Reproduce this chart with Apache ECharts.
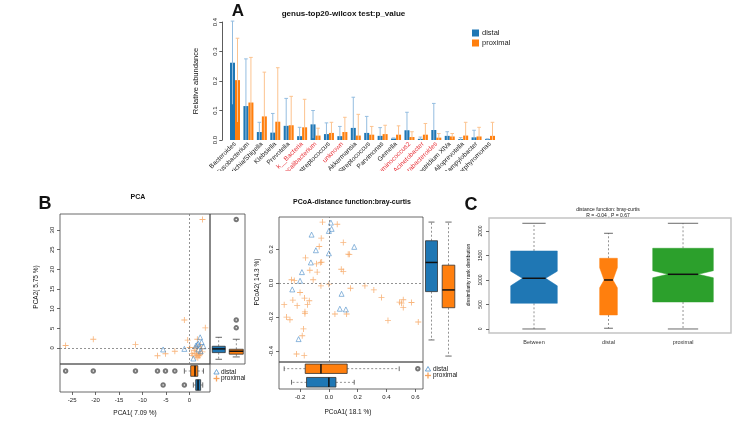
<!DOCTYPE html>
<html><head><meta charset="utf-8">
<script src="https://cdn.jsdelivr.net/npm/echarts@6/dist/echarts.min.js"></script>
<style>html,body{margin:0;padding:0;background:#fff}#c{width:753px;height:426px}</style>
</head><body><div id="c"></div>
<script>
// ---------- Panel A data ----------
const genera = ['Bacteroides','Fusobacterium','Escherichia/Shigella','Klebsiella','Prevotella','k__Bacteria','Faecalibacterium','Peptostreptococcus','unknown','Akkermansia','Streptococcus','Parvimonas','Gemella','Ruminococcus2','Acinetobacter','Parabacteroides','Clostridium XlVa','Alloprevotella','Campylobacter','Porphyromonas'];
const redGenera = ['k__Bacteria','Faecalibacterium','unknown','Ruminococcus2','Acinetobacter','Parabacteroides'];
const distalMean = [0.262,0.115,0.027,0.025,0.048,0.013,0.053,0.020,0.013,0.041,0.024,0.014,0.005,0.033,0.004,0.034,0.014,0.003,0.009,0.003];
const distalSd   = [0.141,0.160,0.033,0.065,0.093,0.030,0.047,0.038,0.033,0.104,0.056,0.028,0.002,0.061,0.006,0.090,0.014,0.005,0.024,0.001];
const proximalMean = [0.203,0.127,0.080,0.062,0.050,0.043,0.015,0.024,0.027,0.015,0.018,0.020,0.018,0.010,0.018,0.008,0.012,0.015,0.012,0.014];
const proximalSd   = [0.142,0.153,0.150,0.183,0.098,0.095,0.025,0.036,0.050,0.072,0.028,0.030,0.030,0.018,0.038,0.014,0.010,0.045,0.031,0.046];
const aTicks = [0,0.1,0.2,0.3,0.4];

// ---------- Panel B: PCA ----------
const pcaDistal = [[2.3,2.7],[1.4,0.6],[1.9,1.1],[3.0,0.4],[2.6,1.5],[0.85,-2.7],[1.9,-0.4],[2.4,-0.85],[-5.6,-0.4],[-1.07,-0.25],[1.7,0.9]];
const pcaProximal = [[2.8,32.7],[-1.07,7.1],[3.4,5.1],[1.7,2.2],[-0.36,2.0],[-20.5,2.2],[-26.4,0.6],[-11.5,0.85],[-6.8,-2.0],[-5.1,-1.5],[-3.1,-0.85],[1.2,-1.4],[1.6,-1.0],[1.9,-1.9],[1.0,-0.6],[2.3,-1.4],[1.4,-2.3],[2.6,-0.2],[0.7,-1.9],[1.7,0.25],[2.1,-2.0],[1.2,0],[0.1,0.1],[0.5,-1.4],[2.4,0.7],[2.8,-1.0],[1.5,-1.6],[1.8,-2.5],[2.2,-1.7]];
const pcaXTicks = [-25,-20,-15,-10,-5,0];
const pcaYTicks = [0,5,10,15,20,25,30];
const pcaYStatsDistal   = [-2.9,-1.2,-0.25,0.42,2.7];
const pcaYStatsProximal = [-2.3,-1.6,-0.85,-0.34,2.2];
const pcaYOutProximal   = [32.7,7.1,5.1];
const pcaXStatsDistal   = [0.85,1.35,1.85,2.4,2.85];
const pcaXStatsProximal = [-1.07,0.28,1.2,1.8,3.0];
const pcaXOutDistal     = [-5.6,-1.07];
const pcaXOutProximal   = [-26.4,-20.5,-11.5,-6.8,-5.1,-3.1];

// ---------- Panel B: PCoA ----------
const pcoaDistal = [[0.014,0.357],[0.019,0.32],[0,0.308],[-0.12,0.286],[-0.09,0.194],[0.176,0.214],[0,0.176],[-0.125,0.122],[-0.187,0.065],[-0.2,0.014],[-0.254,-0.037],[0.088,-0.063],[0.076,-0.151],[0.118,-0.155],[-0.21,-0.33]];
const pcoaProximal = [[-0.044,0.36],[0.058,0.347],[-0.053,0.265],[-0.067,0.216],[0.1,0.239],[0.134,0.171],[0.142,0.17],[-0.162,0.149],[-0.058,0.122],[-0.05,0.124],[-0.086,0.114],[-0.132,0.076],[0.086,0.082],[0.1,0.069],[-0.081,0.065],[-0.259,0.02],[-0.24,0.016],[-0.109,0.02],[-0.055,-0.016],[0,-0.006],[0.25,-0.016],[0.15,-0.03],[0.312,-0.04],[-0.2,-0.055],[-0.25,-0.1],[-0.169,-0.088],[-0.136,-0.104],[-0.31,-0.127],[-0.22,-0.133],[-0.148,-0.127],[-0.166,-0.169],[-0.166,-0.18],[0.365,-0.084],[0.516,-0.098],[0.504,-0.118],[0.516,-0.143],[0.49,-0.112],[0.573,-0.114],[0.042,-0.182],[0.123,-0.182],[-0.294,-0.2],[-0.27,-0.216],[0.41,-0.22],[0.62,-0.229],[-0.176,-0.27],[-0.185,-0.31],[-0.224,-0.418],[-0.171,-0.427]];
const pcoaXTicks = [-0.2,0,0.2,0.4,0.6];
const pcoaYTicks = [-0.4,-0.2,0,0.2];
const pcoaYStatsDistal   = [-0.335,-0.05,0.122,0.25,0.36];
const pcoaYStatsProximal = [-0.43,-0.145,-0.04,0.106,0.36];
const pcoaXStatsDistal   = [-0.259,-0.155,0,0.049,0.176];
const pcoaXStatsProximal = [-0.31,-0.164,-0.055,0.127,0.488];
const pcoaXOutProximal   = [0.617];

// ---------- Panel C ----------
const cGroups = ['Between','distal','proximal'];
const cStats = [[0,524,1035,1592,2157],[15,286,1000,1443,1953],[0,551,1116,1647,2157]];
const cNotch = [[880,1180],[840,1250],[1045,1190]];
const cTicks = [0,500,1000,1500,2000];

// ---------- styles ----------
const FONT = 'Liberation Sans, Arial, sans-serif';
const BLUE = '#1f77b4', ORANGE = '#ff7f0e', GREEN = '#2ca02c';
const PT_BLUE = '#4f8fc9', PT_ORANGE = '#f6a45e';
const PLUS = 'path://M4.3,0H5.7V4.3H10V5.7H5.7V10H4.3V5.7H0V4.3H4.3Z';
const FRAME = '#444';

function errRenderer(off, color) {
  return function (params, api) {
    const i = api.value(0), m = api.value(1), s = api.value(2);
    const top = api.coord([i, m + s]);
    const bot = api.coord([i, Math.max(0, m - s)]);
    const x = top[0] + off;
    return { type: 'group', children: [
      { type: 'line', shape: { x1: x, y1: top[1], x2: x, y2: bot[1] }, style: { stroke: color, lineWidth: 1 } },
      { type: 'line', shape: { x1: x - 1.8, y1: top[1], x2: x + 1.8, y2: top[1] }, style: { stroke: color, lineWidth: 1 } }
    ]};
  };
}

function boxRenderer(horizontal, halfWs, fills, stroke, notched, medW) {
  return function (params, api) {
    const k = params.dataIndex;
    const cat = api.value(0);
    const P = val => horizontal ? api.coord([val, cat]) : api.coord([cat, val]);
    const A = val => horizontal ? P(val)[0] : P(val)[1];
    const c = horizontal ? P(api.value(3))[1] : P(api.value(3))[0];
    const pt = (a, cc) => horizontal ? [a, cc] : [cc, a];
    const seg = (a1, c1, a2, c2, st) => { const p1 = pt(a1, c1), p2 = pt(a2, c2); return { type: 'line', shape: { x1: p1[0], y1: p1[1], x2: p2[0], y2: p2[1] }, style: st }; };
    const w = halfWs[k], cw = w * 0.5;
    const mn = A(api.value(1)), q1 = A(api.value(2)), md = A(api.value(3)), q3 = A(api.value(4)), mx = A(api.value(5));
    const dash = { stroke: '#666', lineWidth: 0.7, lineDash: [2, 2] };
    const solid = { stroke: '#444', lineWidth: 0.8 };
    const ch = [];
    ch.push(seg(q3, c, mx, c, dash));
    ch.push(seg(q1, c, mn, c, dash));
    ch.push(seg(mx, c - cw, mx, c + cw, solid));
    ch.push(seg(mn, c - cw, mn, c + cw, solid));
    let pts, mw = w;
    if (notched) {
      const nlo = A(cNotch[k][0]), nhi = A(cNotch[k][1]);
      pts = [pt(q1, c - w), pt(nlo, c - w), pt(md, c - w / 2), pt(nhi, c - w), pt(q3, c - w),
             pt(q3, c + w), pt(nhi, c + w), pt(md, c + w / 2), pt(nlo, c + w), pt(q1, c + w)];
      mw = w / 2;
    } else {
      pts = [pt(q1, c - w), pt(q3, c - w), pt(q3, c + w), pt(q1, c + w)];
    }
    ch.push({ type: 'polygon', shape: { points: pts }, style: { fill: fills[k], stroke: stroke || fills[k], lineWidth: stroke ? 0.8 : 0.5 } });
    ch.push(seg(md, c - mw, md, c + mw, { stroke: '#111', lineWidth: medW }));
    return { type: 'group', children: ch };
  };
}

const hidden = (o) => Object.assign({ show: false, splitLine: { show: false }, axisLine: { onZero: false } }, o);
const tickLbl = (vals, extra) => Object.assign({
  axisLine: { show: false, onZero: false },
  axisTick: { show: true, length: 3, customValues: vals, lineStyle: { color: FRAME, width: 0.8 } },
  axisLabel: { customValues: vals, fontSize: 6, margin: 5, color: '#222', fontFamily: FONT, formatter: v => String(v) },
  splitLine: { show: false }
}, extra);

const grid = [
  { left: 228.3, top: 22, width: 268.4, height: 118 },                                  // 0 A
  { left: 60, top: 214, width: 150, height: 150, show: true, borderColor: FRAME, borderWidth: 0.8 }, // 1 PCA main
  { left: 210, top: 214, width: 35, height: 150, show: true, borderColor: FRAME, borderWidth: 0.8 }, // 2 PCA right
  { left: 60, top: 364, width: 150, height: 28, show: true, borderColor: FRAME, borderWidth: 0.8 },  // 3 PCA bottom
  { left: 279, top: 217, width: 144, height: 145, show: true, borderColor: FRAME, borderWidth: 0.8 }, // 4 PCoA main
  { left: 423, top: 217, width: 34, height: 145 },                                                   // 5 PCoA right
  { left: 279, top: 362, width: 144, height: 27, show: true, borderColor: FRAME, borderWidth: 0.8 }, // 6 PCoA bottom
  { left: 489, top: 218, width: 242, height: 115, show: true, borderColor: '#c4c4c4', borderWidth: 1.5 } // 7 C
];

const xAxis = [
  { type: 'category', gridIndex: 0, data: genera.map(g => ({ value: g, textStyle: { color: redGenera.includes(g) ? '#e8333a' : '#222' } })),
    axisLine: { show: false }, axisTick: { show: false },
    axisLabel: { rotate: 45, fontSize: 6.6, margin: 3, interval: 0, fontFamily: FONT } },
  hidden({ type: 'value', gridIndex: 1, min: -27.6, max: 4.4 }),
  hidden({ type: 'category', gridIndex: 2, data: ['distal', 'proximal'] }),
  tickLbl(pcaXTicks, { type: 'value', gridIndex: 3, min: -27.6, max: 4.4 }),
  hidden({ type: 'value', gridIndex: 4, min: -0.346, max: 0.653 }),
  hidden({ type: 'category', gridIndex: 5, data: ['distal', 'proximal'] }),
  tickLbl(pcoaXTicks, { type: 'value', gridIndex: 6, min: -0.346, max: 0.653 }),
  { type: 'value', gridIndex: 7, min: 0.396, max: 3.644,
    axisLine: { show: false, onZero: false }, axisTick: { show: false }, splitLine: { show: false },
    axisLabel: { customValues: [1, 2, 3], formatter: v => cGroups[Math.round(v) - 1], fontSize: 5.5, margin: 6, color: '#333', fontFamily: FONT } }
];
xAxis[6].axisLabel.formatter = v => v.toFixed(1);

const yAxis = [
  { type: 'value', gridIndex: 0, min: 0, max: 0.4, interval: 0.1, offset: 6,
    axisLine: { show: true, onZero: false, lineStyle: { color: '#333', width: 0.8 } },
    axisTick: { show: true, length: 3, lineStyle: { color: '#333', width: 0.8 } },
    axisLabel: { rotate: 90, fontSize: 6, margin: 4, formatter: v => v.toFixed(1), color: '#222', fontFamily: FONT },
    splitLine: { show: false } },
  tickLbl(pcaYTicks, { type: 'value', gridIndex: 1, min: -4.1, max: 34.1 }),
  hidden({ type: 'value', gridIndex: 2, min: -4.1, max: 34.1 }),
  hidden({ type: 'category', gridIndex: 3, data: ['distal', 'proximal'] }),
  tickLbl(pcoaYTicks, { type: 'value', gridIndex: 4, min: -0.465, max: 0.39 }),
  hidden({ type: 'value', gridIndex: 5, min: -0.465, max: 0.39 }),
  hidden({ type: 'category', gridIndex: 6, data: ['distal', 'proximal'] }),
  tickLbl(cTicks, { type: 'value', gridIndex: 7, min: -82, max: 2265 })
];
yAxis[1].axisLabel.rotate = 90;
yAxis[4].axisLabel.rotate = 90;
yAxis[4].axisLabel.formatter = v => v.toFixed(1);
yAxis[7].axisLabel.rotate = 90;
yAxis[7].axisLabel.fontSize = 5;
yAxis[7].axisLabel.margin = 6;

const zeroLines = {
  silent: true, symbol: ['none', 'none'], label: { show: false }, animation: false,
  lineStyle: { type: [2, 2], color: '#777', width: 0.8 },
  data: [{ xAxis: 0 }, { yAxis: 0 }]
};
const tri = { symbol: 'triangle', symbolSize: 5, itemStyle: { color: 'rgba(0,0,0,0)', borderColor: PT_BLUE, borderWidth: 0.8 } };
const plus = { symbol: PLUS, symbolSize: 6, itemStyle: { color: PT_ORANGE } };
const outl = { symbol: 'emptyCircle', symbolSize: 3.5, itemStyle: { color: '#555', borderWidth: 0.6 } };

const series = [
  { type: 'bar', name: 'distal', xAxisIndex: 0, yAxisIndex: 0, data: distalMean, barWidth: 5, barGap: '0%', itemStyle: { color: BLUE } },
  { type: 'bar', name: 'proximal', xAxisIndex: 0, yAxisIndex: 0, data: proximalMean, barWidth: 5, barGap: '0%', itemStyle: { color: ORANGE } },
  { type: 'custom', name: 'errD', xAxisIndex: 0, yAxisIndex: 0, clip: false, z: 5, encode: { x: 0, y: 1 },
    data: distalMean.map((m, i) => [i, m, distalSd[i]]), renderItem: errRenderer(-2.5, '#94bde0') },
  { type: 'custom', name: 'errP', xAxisIndex: 0, yAxisIndex: 0, clip: false, z: 5, encode: { x: 0, y: 1 },
    data: proximalMean.map((m, i) => [i, m, proximalSd[i]]), renderItem: errRenderer(2.5, '#fcc38f') },

  // PCA
  Object.assign({ type: 'scatter', name: 'pcaP', xAxisIndex: 1, yAxisIndex: 1, data: pcaProximal, markLine: zeroLines }, plus),
  Object.assign({ type: 'scatter', name: 'pcaD', xAxisIndex: 1, yAxisIndex: 1, data: pcaDistal }, tri),
  { type: 'custom', name: 'pcaBoxY', xAxisIndex: 2, yAxisIndex: 2, encode: { x: 0, y: [1, 2, 3, 4, 5] },
    data: [[0].concat(pcaYStatsDistal), [1].concat(pcaYStatsProximal)],
    renderItem: boxRenderer(false, [6.5, 7], [BLUE, ORANGE], '#333', false, 1.5) },
  Object.assign({ type: 'scatter', name: 'pcaOutY', xAxisIndex: 2, yAxisIndex: 2, data: pcaYOutProximal.map(v => [1, v]) }, outl),
  { type: 'custom', name: 'pcaBoxX', xAxisIndex: 3, yAxisIndex: 3, encode: { y: 0, x: [1, 2, 3, 4, 5] },
    data: [[0].concat(pcaXStatsDistal), [1].concat(pcaXStatsProximal)],
    renderItem: boxRenderer(true, [5.3, 5.3], [BLUE, ORANGE], '#333', false, 1.5) },
  Object.assign({ type: 'scatter', name: 'pcaOutXd', xAxisIndex: 3, yAxisIndex: 3, data: pcaXOutDistal.map(v => [v, 0]) }, outl),
  Object.assign({ type: 'scatter', name: 'pcaOutXp', xAxisIndex: 3, yAxisIndex: 3, data: pcaXOutProximal.map(v => [v, 1]) }, outl),

  // PCoA
  Object.assign({ type: 'scatter', name: 'pcoaP', xAxisIndex: 4, yAxisIndex: 4, data: pcoaProximal, markLine: zeroLines }, plus),
  Object.assign({ type: 'scatter', name: 'pcoaD', xAxisIndex: 4, yAxisIndex: 4, data: pcoaDistal }, tri),
  { type: 'custom', name: 'pcoaBoxY', xAxisIndex: 5, yAxisIndex: 5, encode: { x: 0, y: [1, 2, 3, 4, 5] },
    data: [[0].concat(pcoaYStatsDistal), [1].concat(pcoaYStatsProximal)],
    renderItem: boxRenderer(false, [6, 6.3], [BLUE, ORANGE], '#333', false, 1.5) },
  { type: 'custom', name: 'pcoaBoxX', xAxisIndex: 6, yAxisIndex: 6, encode: { y: 0, x: [1, 2, 3, 4, 5] },
    data: [[0].concat(pcoaXStatsDistal), [1].concat(pcoaXStatsProximal)],
    renderItem: boxRenderer(true, [4.8, 4.7], [BLUE, ORANGE], '#333', false, 1.5) },
  Object.assign({ type: 'scatter', name: 'pcoaOutX', xAxisIndex: 6, yAxisIndex: 6, data: pcoaXOutProximal.map(v => [v, 1]) }, outl),

  // C
  { type: 'custom', name: 'cBox', xAxisIndex: 7, yAxisIndex: 7, encode: { x: 0, y: [1, 2, 3, 4, 5] },
    data: cStats.map((s, i) => [i + 1].concat(s)),
    renderItem: boxRenderer(false, [23.3, 8.85, 30.3], [BLUE, ORANGE, GREEN], null, true, 1.5) }
];

function txt(x, y, text, size, extra) {
  return Object.assign({ type: 'text', x: x, y: y, z: 200,
    style: Object.assign({ text: text, fontSize: size, fontFamily: FONT, fill: '#111', textAlign: 'center', textVerticalAlign: 'middle' }, extra || {}) });
}
function rtxt(x, y, text, size) {
  const t = txt(x, y, text, size); t.rotation = Math.PI / 2; return t;
}
function bold(x, y, text, size) { return txt(x, y, text, size, { fontWeight: 'bold' }); }
function triMark(x, y) {
  return { type: 'polygon', z: 200, shape: { points: [[x, y - 2.5], [x - 2.6, y + 2], [x + 2.6, y + 2]] }, style: { fill: 'none', stroke: PT_BLUE, lineWidth: 0.8 } };
}
function plusMark(x, y) {
  return { type: 'group', z: 200, children: [
    { type: 'line', shape: { x1: x - 3, y1: y, x2: x + 3, y2: y }, style: { stroke: PT_ORANGE, lineWidth: 1.3 } },
    { type: 'line', shape: { x1: x, y1: y - 3, x2: x, y2: y + 3 }, style: { stroke: PT_ORANGE, lineWidth: 1.3 } }
  ]};
}

const graphic = [
  { type: 'rect', z: 150, shape: { x: 190, y: 171, width: 330, height: 25 }, style: { fill: '#fff' } },
  bold(238, 11, 'A', 17),
  bold(343.5, 14, 'genus-top20-wilcox test:p_value', 8),
  rtxt(196, 81, 'Relative abundance', 7.5),
  bold(45, 204, 'B', 18),
  bold(138, 197, 'PCA', 7),
  rtxt(36, 287, 'PCA2( 5.75 %)', 6.5),
  txt(135, 413, 'PCA1( 7.09 %)', 6.5),
  triMark(216.5, 372), txt(221, 372, 'distal', 6.5, { textAlign: 'left' }),
  plusMark(216.5, 378.5), txt(221, 378.5, 'proximal', 6.5, { textAlign: 'left' }),
  bold(352, 202, 'PCoA-distance function:bray-curtis', 7),
  rtxt(257, 282, 'PCoA2( 14.3 %)', 6.5),
  txt(348, 412, 'PCoA1( 18.1 %)', 6.5),
  triMark(428, 369), txt(433, 369, 'distal', 6.5, { textAlign: 'left' }),
  plusMark(428, 375.5), txt(433, 375.5, 'proximal', 6.5, { textAlign: 'left' }),
  bold(471, 205, 'C', 18),
  txt(608, 210, 'distance function: bray-curtis', 5),
  txt(608, 216, 'R = -0.04 , P = 0.67', 5),
  rtxt(469, 275, 'dissimilarity rank distribution', 5)
];

const chart = echarts.init(document.getElementById('c'), null, { renderer: 'canvas' });
chart.setOption({
  animation: false,
  backgroundColor: '#fff',
  textStyle: { fontFamily: FONT },
  legend: { data: ['distal', 'proximal'], left: 467, top: 24, orient: 'vertical', itemWidth: 7, itemHeight: 7, itemGap: 2, icon: 'rect',
            textStyle: { fontSize: 7.5, fontFamily: FONT, color: '#222', padding: [0, 0, 0, -2] } },
  grid: grid, xAxis: xAxis, yAxis: yAxis, series: series, graphic: graphic
});
</script></body></html>
